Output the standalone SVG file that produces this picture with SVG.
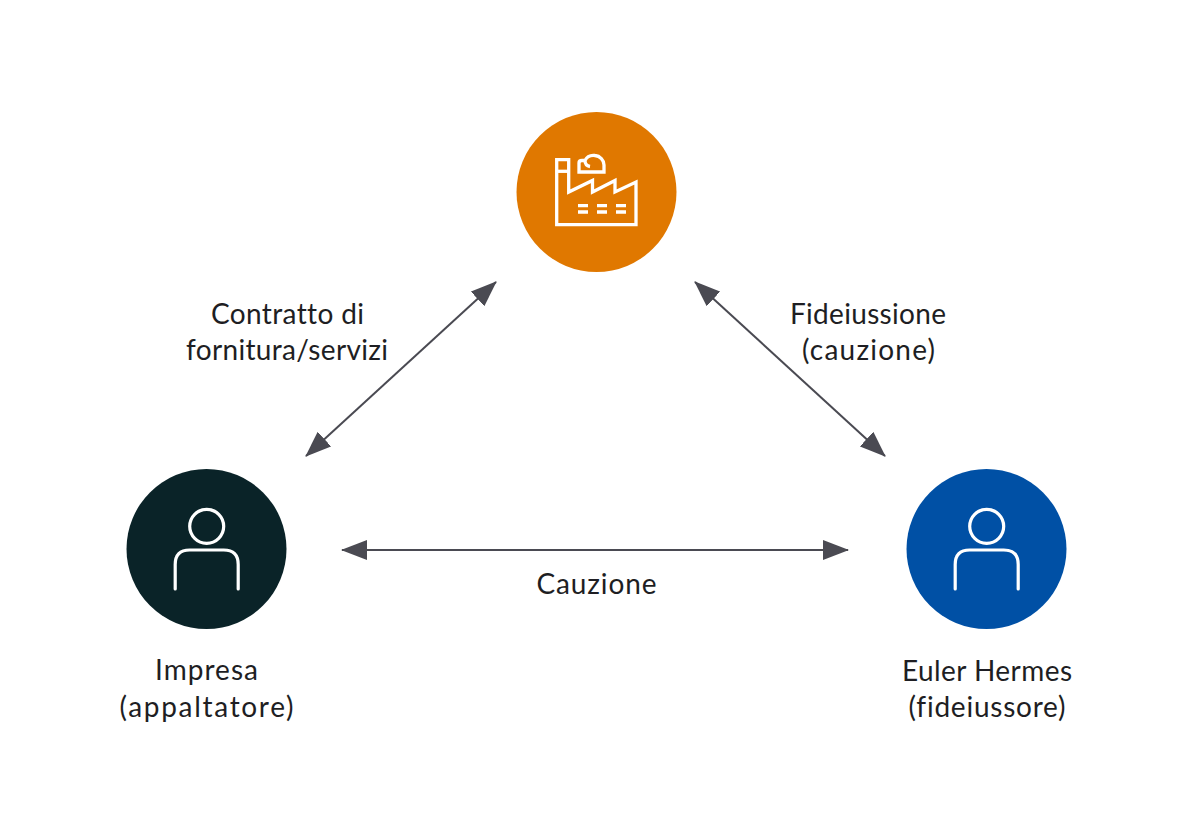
<svg xmlns="http://www.w3.org/2000/svg" width="1181" height="827" viewBox="0 0 1181 827">
<style>
.lbl{font-family:"Lato","Liberation Sans",sans-serif;font-size:28px;fill:#1e1e23;text-anchor:middle;font-variant-ligatures:none}
.ico{fill:none;stroke:#fff;stroke-width:3.3;stroke-linejoin:miter}
.person{fill:none;stroke:#fff;stroke-width:3.2;stroke-linecap:round}
.conn{stroke:#4a4a52;stroke-width:2;fill:none;marker-start:url(#ah);marker-end:url(#ah)}
</style>
<defs>
<marker id="ah" viewBox="0 0 26 20" refX="25" refY="10" markerUnits="userSpaceOnUse" markerWidth="26" markerHeight="20" orient="auto-start-reverse"><path d="M0 0L26 10L0 20Z" fill="#4a4a52"/></marker>
<g id="person-icon"><circle cx="0" cy="-22.7" r="17" class="person"/><path d="M-31.5 40V15.5Q-31.5 1-17 1H17Q31.5 1 31.5 15.5V40" class="person"/></g>
</defs>
<rect width="1181" height="827" fill="#fff"/>
<g id="connectors">
<line class="conn" x1="496" y1="282" x2="306" y2="456"/>
<line class="conn" x1="695" y1="282" x2="885" y2="456"/>
<line class="conn" x1="342" y1="550" x2="848" y2="550"/>
</g>
<g id="node-factory">
<circle cx="596.5" cy="192" r="80" fill="#e07800"/>
<path class="ico" d="M556.7 224.7V159.7H568.7V192L592.5 180.5V192L615 180.5V192L636 182V224.7Z"/>
<path class="ico" d="M556.7 171.3H568.7"/>
<path class="ico" d="M579 172V163Q579 160.5 582 160.5H585C587 156.5 591 155 595 155.5C600 156 604 160 604 165V172ZM585 160.5C585 164 587 166 590 166.5"/>
<path class="ico" d="M578 205.7H588M597 205.7H607M616 205.7H626M578 212H588M597 212H607M616 212H626"/>
</g>
<g id="node-impresa">
<circle cx="206.5" cy="549" r="80" fill="#0a2328"/>
<use href="#person-icon" x="206.7" y="549"/>
<text class="lbl" x="206.5" y="680" textLength="103">Impresa</text>
<text class="lbl" x="206.5" y="717" textLength="174">(appaltatore)</text>
</g>
<g id="node-euler">
<circle cx="986.5" cy="549" r="80" fill="#0050a5"/>
<use href="#person-icon" x="986.7" y="549"/>
<text class="lbl" x="987" y="681" textLength="170">Euler Hermes</text>
<text class="lbl" x="987" y="717" textLength="157">(fideiussore)</text>
</g>
<g id="labels">
<text class="lbl" x="287.5" y="324" textLength="153">Contratto di</text>
<text class="lbl" x="287" y="360" textLength="202">fornitura/servizi</text>
<text class="lbl" x="868" y="324" textLength="156">Fideiussione</text>
<text class="lbl" x="868.5" y="360" textLength="133">(cauzione)</text>
<text class="lbl" x="596.5" y="594" textLength="120">Cauzione</text>
</g>
</svg>
